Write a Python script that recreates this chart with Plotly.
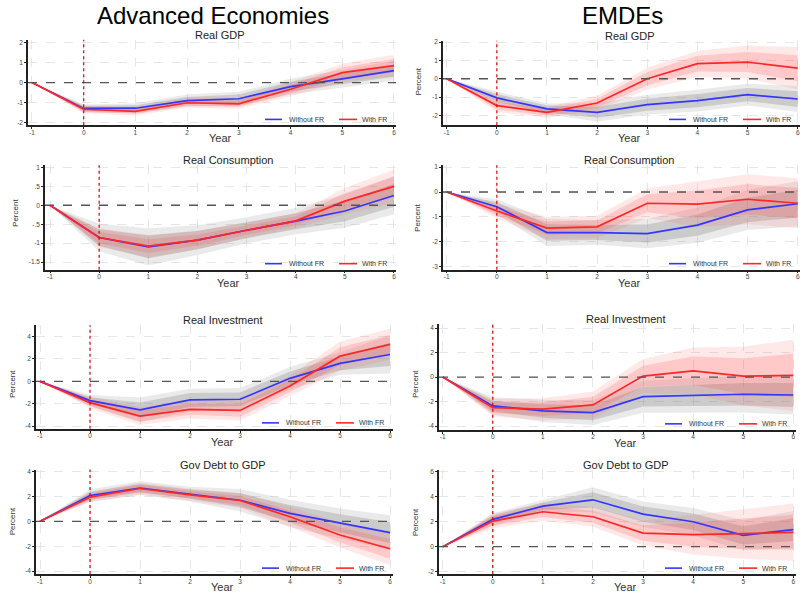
import plotly.graph_objects as go

W, H = 802, 593

years = [-1, 0, 1, 2, 3, 4, 5, 6]

# Advanced economies: point estimates (Without FR / With FR) and standard errors
ae_gdp_wo = [0, -1.28, -1.27, -0.89, -0.80, -0.20, 0.18, 0.59]
ae_gdp_fr = [0, -1.32, -1.43, -1.00, -1.05, -0.33, 0.49, 0.84]
ae_gdp_wo_se = [0, 0.12, 0.15, 0.18, 0.21, 0.24, 0.27, 0.30]
ae_gdp_fr_se = [0, 0.12, 0.12, 0.15, 0.15, 0.21, 0.27, 0.33]

ae_cons_wo = [0, -0.85, -1.10, -0.92, -0.66, -0.42, -0.15, 0.26]
ae_cons_fr = [0, -0.85, -1.08, -0.92, -0.66, -0.41, 0.11, 0.50]
ae_cons_wo_se = [0, 0.22, 0.30, 0.24, 0.21, 0.21, 0.27, 0.30]
ae_cons_fr_se = [0, 0.15, 0.18, 0.15, 0.12, 0.12, 0.21, 0.27]

ae_inv_wo = [0, -1.72, -2.55, -1.66, -1.60, 0.27, 1.60, 2.40]
ae_inv_fr = [0, -1.90, -3.10, -2.50, -2.60, -0.41, 2.25, 3.30]
ae_inv_wo_se = [0, 0.30, 0.67, 0.61, 0.61, 0.61, 0.61, 1.03]
ae_inv_fr_se = [0, 0.30, 0.49, 0.49, 0.55, 0.55, 0.79, 0.85]

ae_debt_wo = [0, 2.08, 2.68, 2.20, 1.70, 0.64, -0.16, -0.90]
ae_debt_fr = [0, 1.95, 2.64, 2.13, 1.68, 0.37, -1.10, -2.20]
ae_debt_wo_se = [0, 0.30, 0.33, 0.36, 0.55, 0.67, 0.73, 0.85]
ae_debt_fr_se = [0, 0.24, 0.30, 0.30, 0.36, 0.49, 0.61, 0.79]

# EMDEs
em_gdp_wo = [0, -1.05, -1.65, -1.84, -1.42, -1.20, -0.87, -1.11]
em_gdp_fr = [0, -1.47, -1.84, -1.33, 0.00, 0.82, 0.91, 0.58]
em_gdp_wo_se = [0, 0.21, 0.18, 0.30, 0.33, 0.36, 0.36, 0.43]
em_gdp_fr_se = [0, 0.21, 0.18, 0.24, 0.36, 0.43, 0.55, 0.70]

em_cons_wo = [0, -0.59, -1.63, -1.63, -1.67, -1.33, -0.72, -0.47]
em_cons_fr = [0, -0.76, -1.45, -1.40, -0.45, -0.49, -0.29, -0.45]
em_cons_wo_se = [0, 0.18, 0.33, 0.30, 0.36, 0.43, 0.49, 0.55]
em_cons_fr_se = [0, 0.18, 0.27, 0.27, 0.36, 0.55, 0.61, 0.61]

em_inv_wo = [0, -2.35, -2.76, -2.90, -1.60, -1.49, -1.40, -1.46]
em_inv_fr = [0, -2.49, -2.62, -2.27, 0.08, 0.51, 0.08, 0.14]
em_inv_wo_se = [0, 0.43, 0.55, 0.61, 0.79, 0.85, 0.91, 0.97]
em_inv_fr_se = [0, 0.43, 0.55, 0.67, 0.85, 1.16, 1.46, 1.76]

em_debt_wo = [0, 2.19, 3.25, 3.76, 2.61, 2.00, 0.91, 1.36]
em_debt_fr = [0, 2.05, 2.80, 2.40, 1.09, 0.96, 1.04, 1.15]
em_debt_wo_se = [0, 0.30, 0.30, 0.61, 0.61, 0.67, 0.73, 0.91]
em_debt_fr_se = [0, 0.36, 0.43, 0.49, 0.61, 0.97, 1.22, 1.40]

panels = [
    # box = plot area in px (x0, x1, ytop, ybot); pct = position of the "Percent" label
    dict(title="Real GDP", wo=ae_gdp_wo, fr=ae_gdp_fr, wo_se=ae_gdp_wo_se, fr_se=ae_gdp_fr_se,
         yt=[-2, -1, 0, 1, 2], ytl=["-2", "-1", "0", "1", "2"], yr=[-2.12, 2.12], xr=[-1.077, 6.039],
         box=(28, 396, 38, 124), pct=None),
    dict(title="Real GDP", wo=em_gdp_wo, fr=em_gdp_fr, wo_se=em_gdp_wo_se, fr_se=em_gdp_fr_se,
         yt=[-2, -1, 0, 1, 2], ytl=["-2", "-1", "0", "1", "2"], yr=[-2.55, 2.07], xr=[-1.074, 6.046],
         box=(443, 800, 39, 124), pct=(419, 80)),
    dict(title="Real Consumption", wo=ae_cons_wo, fr=ae_cons_fr, wo_se=ae_cons_wo_se, fr_se=ae_cons_fr_se,
         yt=[-1.5, -1, -0.5, 0, 0.5, 1], ytl=["-1.5", "-1", "-.5", "0", ".5", "1"], yr=[-1.70, 1.06],
         xr=[-1.102, 6.041], box=(45, 396, 164, 269), pct=(16, 212)),
    dict(title="Real Consumption", wo=em_cons_wo, fr=em_cons_fr, wo_se=em_cons_wo_se, fr_se=em_cons_fr_se,
         yt=[-3, -2, -1, 0, 1], ytl=["-3", "-2", "-1", "0", "1"], yr=[-3.12, 1.08], xr=[-1.074, 6.046],
         box=(443, 800, 164, 269), pct=(418, 217)),
    dict(title="Real Investment", wo=ae_inv_wo, fr=ae_inv_fr, wo_se=ae_inv_wo_se, fr_se=ae_inv_fr_se,
         yt=[-4, -2, 0, 2, 4], ytl=["-4", "-2", "0", "2", "4"], yr=[-4.24, 5.0], xr=[-1.08, 6.06],
         box=(36, 393, 325, 429), pct=(12, 384)),
    dict(title="Real Investment", wo=em_inv_wo, fr=em_inv_fr, wo_se=em_inv_wo_se, fr_se=em_inv_fr_se,
         yt=[-4, -2, 0, 2, 4], ytl=["-4", "-2", "0", "2", "4"], yr=[-4.3, 4.3], xr=[-1.074, 6.054],
         box=(439, 796, 324, 430), pct=(415, 384)),
    dict(title="Gov Debt to GDP", wo=ae_debt_wo, fr=ae_debt_fr, wo_se=ae_debt_wo_se, fr_se=ae_debt_fr_se,
         yt=[-4, -2, 0, 2, 4], ytl=["-4", "-2", "0", "2", "4"], yr=[-4.24, 4.16], xr=[-1.08, 6.06],
         box=(36, 393, 470, 575), pct=(12, 522)),
    dict(title="Gov Debt to GDP", wo=em_debt_wo, fr=em_debt_fr, wo_se=em_debt_wo_se, fr_se=em_debt_fr_se,
         yt=[-2, 0, 2, 4, 6], ytl=["-2", "0", "2", "4", "6"], yr=[-2.2, 6.18], xr=[-1.074, 6.054],
         box=(439, 796, 470, 575), pct=(415, 523)),
]

BLUE = "#3535ff"
RED = "#ff2626"
FONT = "Liberation Sans, Arial, sans-serif"

fig = go.Figure()
annotations = []
shapes = []
layout_extra = {}


def band(x, mid, se, z, xa, ya, color):
    lo = [m - z * s for m, s in zip(mid, se)]
    hi = [m + z * s for m, s in zip(mid, se)]
    return go.Scatter(x=x + x[::-1], y=hi + lo[::-1], fill="toself", fillcolor=color,
                      line=dict(width=0), mode="lines", hoverinfo="skip", showlegend=False,
                      xaxis=xa, yaxis=ya)


def paper_text(text, x, y, size, color="#333", **kw):
    return dict(text=text, x=x / W, y=1 - y / H, xref="paper", yref="paper", showarrow=False,
                xanchor=kw.pop("xanchor", "center"), yanchor="middle",
                font=dict(size=size, color=color, family=FONT), **kw)


for i, p in enumerate(panels):
    n = "" if i == 0 else str(i + 1)
    xa, ya = "x" + n, "y" + n
    x0, x1, yt, yb = p["box"]

    # confidence bands: 90% (outer) and 68% (inner)
    fig.add_trace(band(years, p["wo"], p["wo_se"], 1.645, xa, ya, "rgba(150,150,150,0.2)"))
    fig.add_trace(band(years, p["wo"], p["wo_se"], 1.0, xa, ya, "rgba(110,110,110,0.25)"))
    fig.add_trace(band(years, p["fr"], p["fr_se"], 1.645, xa, ya, "rgba(255,90,90,0.14)"))
    fig.add_trace(band(years, p["fr"], p["fr_se"], 1.0, xa, ya, "rgba(255,60,60,0.18)"))

    fig.add_trace(go.Scatter(x=years, y=p["wo"], mode="lines", name="Without FR", showlegend=False,
                             line=dict(color=BLUE, width=1.7), xaxis=xa, yaxis=ya))
    fig.add_trace(go.Scatter(x=years, y=p["fr"], mode="lines", name="With FR", showlegend=False,
                             line=dict(color=RED, width=1.7), xaxis=xa, yaxis=ya))

    axis_common = dict(showgrid=True, gridcolor="#e6e6e6", griddash="dash", gridwidth=1,
                       zeroline=False, showline=True, linecolor="#222", linewidth=1.5,
                       ticks="outside", ticklen=2, tickcolor="#222", tickmode="array",
                       tickfont=dict(size=6.5, color="#444", family=FONT))
    layout_extra["xaxis" + n] = dict(domain=[x0 / W, x1 / W], range=p["xr"], anchor=ya,
                                     tickvals=years, ticktext=[str(v) for v in years],
                                     ticklabelstandoff=-2, **axis_common)
    layout_extra["yaxis" + n] = dict(domain=[1 - yb / H, 1 - yt / H], range=p["yr"], anchor=xa,
                                     tickvals=p["yt"], ticktext=p["ytl"], **axis_common)

    # horizontal zero reference and shock-date marker
    shapes.append(dict(type="line", xref=xa + " domain", yref=ya, x0=0, x1=1, y0=0, y1=0,
                       line=dict(color="#555", width=1.4, dash="dash")))
    shapes.append(dict(type="line", xref=xa, yref=ya + " domain", x0=0, x1=0, y0=0, y1=1,
                       line=dict(color="#e00000", width=1.2, dash="dot")))

    # in-panel legend (bottom right)
    r = x1 - 4
    ly = yb - 6
    for s0, s1, tx, name, color in [(127, 110, 105, "Without FR", BLUE), (53, 35, 32, "With FR", RED)]:
        shapes.append(dict(type="line", xref="paper", yref="paper", x0=(r - s0) / W, x1=(r - s1) / W,
                           y0=1 - ly / H, y1=1 - ly / H, line=dict(color=color, width=1.6)))
        annotations.append(paper_text(name, r - tx, ly, 7, "#333", xanchor="left"))

    cx = (x0 + x1) / 2 + 8
    annotations.append(paper_text(p["title"], cx, yt - 5, 11, "#222"))
    annotations.append(paper_text("Year", cx, yb + 13, 11, "#333"))
    if p["pct"]:
        annotations.append(paper_text("Percent", p["pct"][0], p["pct"][1], 8, "#333", textangle=-90))

annotations.append(paper_text("Advanced Economies", 213, 14, 24, "#000"))
annotations.append(paper_text("EMDEs", 622, 14, 24, "#000"))

fig.update_layout(
    width=W, height=H, margin=dict(l=0, r=0, t=0, b=0),
    paper_bgcolor="white", plot_bgcolor="white", showlegend=False,
    font=dict(family=FONT), annotations=annotations, shapes=shapes,
    **layout_extra,
)

fig.write_html("out.html", config={"displayModeBar": False},
               post_script="document.body.style.margin='0';")
